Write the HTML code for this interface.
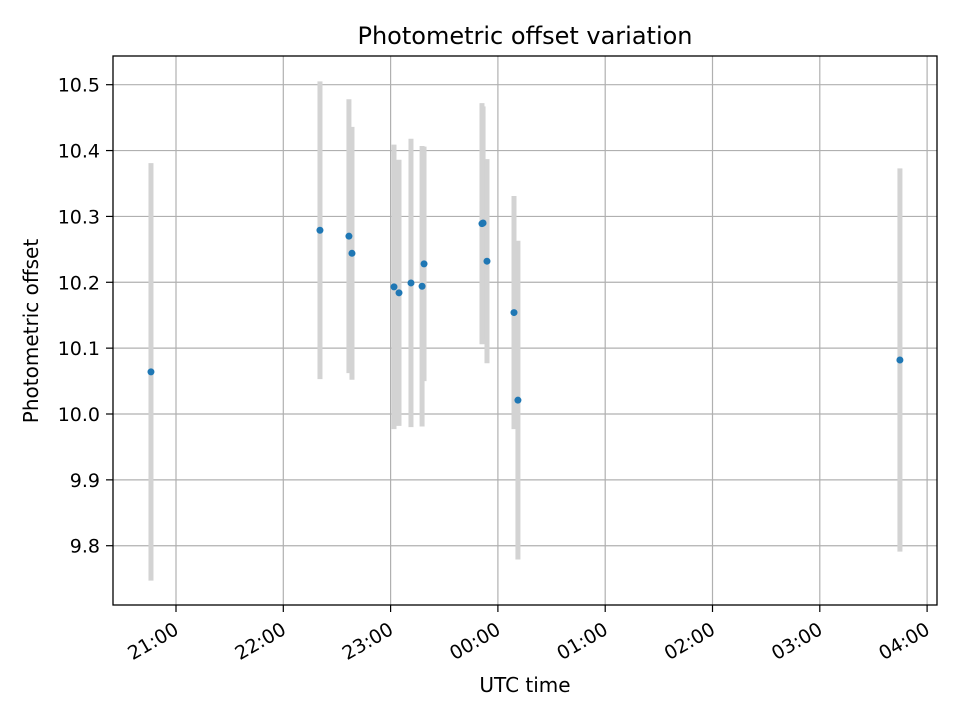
<!DOCTYPE html>
<html><head><meta charset="utf-8"><style>
body{margin:0;background:#fff}
svg text{font-family:"DejaVu Sans","Liberation Sans",sans-serif;fill:#000}
</style></head><body>
<svg id="chart" width="960" height="720" viewBox="0 0 960 720">
<rect width="960" height="720" fill="#fff"/>
<text x="525" y="44" font-size="24" text-anchor="middle">Photometric offset variation</text>
<g id="grid"></g><g id="bars"></g><g id="pts"></g><g id="axes"></g>
<rect x="113" y="56" width="824" height="549" fill="none" stroke="#000" stroke-width="1.3"/>
<text x="525" y="692" font-size="20" text-anchor="middle">UTC time</text>
<text transform="translate(38,331) rotate(-90)" font-size="20" text-anchor="middle">Photometric offset</text>
</svg>
<script>
// minutes since 21:00 UTC
const times=[-14,80.5,96.7,98.4,121.9,124.7,131.4,137.6,138.7,171.1,171.7,173.9,189.0,191.2,404.8];
const values=[10.064,10.279,10.270,10.244,10.193,10.184,10.199,10.194,10.228,10.289,10.290,10.232,10.154,10.021,10.082];
const errors=[0.317,0.226,0.208,0.192,0.216,0.202,0.219,0.213,0.178,0.183,0.177,0.155,0.177,0.242,0.291];
const yTicks=[9.8,9.9,10.0,10.1,10.2,10.3,10.4,10.5];
const yTickLabels=["9.8","9.9","10.0","10.1","10.2","10.3","10.4","10.5"];
const xTicks=[0,60,120,180,240,300,360,420];
const xTickLabels=["21:00","22:00","23:00","00:00","01:00","02:00","03:00","04:00"];
const X=m=>176+m*107.3/60;
const Y=v=>414-(v-10)*658.6;
const NS="http://www.w3.org/2000/svg";
function mk(t,a,p){const e=document.createElementNS(NS,t);for(const k in a)e.setAttribute(k,a[k]);p.appendChild(e);return e;}
const grid=document.getElementById('grid'),axes=document.getElementById('axes'),bars=document.getElementById('bars'),pts=document.getElementById('pts');
yTicks.forEach((v,i)=>{
 const g=mk('line',{x1:113,x2:937,y1:Y(v),y2:Y(v),stroke:'#b0b0b0','stroke-width':1.2},grid);
 
 
 const t=mk('line',{x1:106,x2:113,y1:Y(v),y2:Y(v),stroke:'#000','stroke-width':1.2},axes);
 
 
 const l=mk('text',{x:100,y:Y(v)+7,'font-size':19,'text-anchor':'end'},axes);
 l.textContent=yTickLabels[i];
 
 
});
xTicks.forEach((m,i)=>{
 const x=X(m);
 const g=mk('line',{x1:x,x2:x,y1:56,y2:605,stroke:'#b0b0b0','stroke-width':1.2},grid);
 
 
 const t=mk('line',{x1:x,x2:x,y1:605,y2:612,stroke:'#000','stroke-width':1.2},axes);
 
 
 const l=mk('text',{transform:`translate(${x-3},621) rotate(-30)`,x:0,y:14,'font-size':19,'text-anchor':'end'},axes);
 l.textContent=xTickLabels[i];
 
 
});
times.forEach((m,i)=>{
 const x=X(m);
 const b=mk('line',{x1:x,x2:x,y1:Y(values[i]+errors[i]),y2:Y(values[i]-errors[i]),stroke:'#d3d3d3','stroke-width':5},bars);
 
 
 const p=mk('circle',{cx:x,cy:Y(values[i]),r:3.5,fill:'#1f77b4'},pts);
 
 
});
</script>
</body></html>
